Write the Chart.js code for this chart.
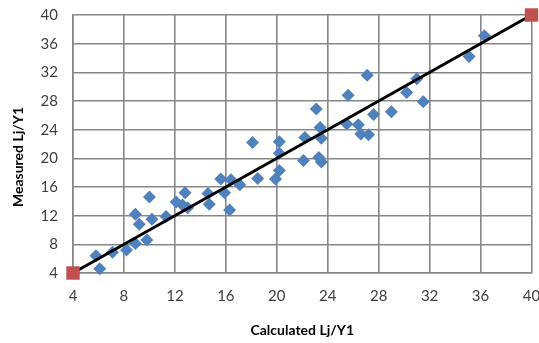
<!DOCTYPE html>
<html>
<head>
<meta charset="utf-8">
<script src="https://cdn.jsdelivr.net/npm/chart.js@4/dist/chart.umd.min.js"></script>
<style>
  html, body { margin: 0; padding: 0; background: #fff; overflow: hidden; }
  #wrap { width: 541px; height: 343px; }
</style>
</head>
<body>
<div id="wrap"><canvas id="c" width="541" height="343"></canvas></div>
<script>
// Calculated vs measured Lj/Y1 values
const calculated = [5.8, 6.1, 7.1, 8.2, 8.9, 9.8, 9.2, 8.9, 10.2, 10.0, 11.3, 12.1, 12.8, 12.6, 13.0,
  14.6, 14.7, 15.6, 15.9, 16.4, 16.3, 17.1, 18.1, 18.5, 19.9, 20.2, 20.2, 20.2, 22.1, 22.2,
  23.1, 23.4, 23.5, 23.3, 23.5, 25.6, 25.5, 26.4, 26.6, 27.2, 27.1, 27.6, 29.0, 30.2, 31.0,
  31.5, 35.1, 36.3];
const measured = [6.4, 4.6, 6.9, 7.2, 8.1, 8.6, 10.8, 12.2, 11.5, 14.6, 11.9, 13.9, 15.2, 13.5, 13.1,
  15.1, 13.6, 17.1, 15.2, 17.0, 12.8, 16.3, 22.2, 17.2, 17.1, 22.3, 20.7, 18.3, 19.7, 22.9,
  26.9, 24.3, 22.8, 20.1, 19.5, 28.8, 24.8, 24.7, 23.4, 23.3, 31.6, 26.1, 26.5, 29.2, 31.1,
  27.9, 34.2, 37.1];

// 1:1 reference line
const lineX = [4, 40];
const lineY = [4, 40];

const axisMin = 4, axisMax = 40, axisStep = 4;

const pts = calculated.map((x, i) => ({ x: x, y: measured[i] }));
const linePts = lineX.map((x, i) => ({ x: x, y: lineY[i] }));

const tickFont = { family: 'Lato, "Liberation Sans", sans-serif', size: 15 };
const gridColor = '#878787';

// y-axis title drawn slightly below the plot centre
const yTitlePlugin = {
  id: 'yTitle',
  afterDraw(chart) {
    const ctx = chart.ctx;
    ctx.save();
    ctx.translate(18, 157);
    ctx.rotate(-Math.PI / 2);
    ctx.font = 'bold 14px Lato, "Liberation Sans", sans-serif';
    ctx.fillStyle = '#000';
    ctx.textAlign = 'center';
    ctx.textBaseline = 'middle';
    ctx.fillText('Measured Lj/Y1', 0, 0);
    ctx.restore();
  }
};

new Chart(document.getElementById('c'), {
  type: 'scatter',
  data: {
    datasets: [
      {
        label: '1:1',
        data: linePts,
        showLine: true,
        borderColor: '#000',
        borderWidth: 3,
        pointStyle: 'rect',
        pointRadius: 9.5,
        pointBackgroundColor: '#c0504d',
        pointBorderWidth: 0,
        pointHoverRadius: 9.5,
        order: 0,
        clip: false
      },
      {
        label: 'data',
        data: pts,
        pointStyle: 'rectRot',
        pointRadius: 6.5,
        pointHoverRadius: 6.5,
        pointBackgroundColor: '#4f81bd',
        pointBorderWidth: 0,
        order: 1,
        clip: false
      }
    ]
  },
  options: {
    responsive: false,
    animation: false,
    layout: { padding: { top: 15, right: 9, left: 0, bottom: 0 } },
    plugins: { legend: { display: false }, tooltip: { enabled: false } },
    scales: {
      x: {
        type: 'linear',
        min: axisMin, max: axisMax,
        ticks: { stepSize: axisStep, font: tickFont, color: '#404040', padding: 14, maxRotation: 0 },
        grid: { color: gridColor, lineWidth: 1.6, drawTicks: false },
        border: { color: gridColor, width: 1.6 },
        title: {
          display: true, text: 'Calculated Lj/Y1', color: '#000',
          font: { family: 'Lato, "Liberation Sans", sans-serif', size: 14, weight: 'bold' },
          padding: { top: 16 }
        },
        afterFit(s) { s.height = 70; s.paddingLeft = 0; s.paddingRight = 0; }
      },
      y: {
        type: 'linear',
        min: axisMin, max: axisMax,
        ticks: { stepSize: axisStep, font: tickFont, color: '#404040', padding: 15 },
        grid: { color: gridColor, lineWidth: 1.6, drawTicks: false },
        border: { color: gridColor, width: 1.6 },
        afterFit(s) { s.width = 73; s.paddingTop = 0; s.paddingBottom = 0; }
      }
    }
  },
  plugins: [yTitlePlugin]
});
</script>
</body>
</html>
